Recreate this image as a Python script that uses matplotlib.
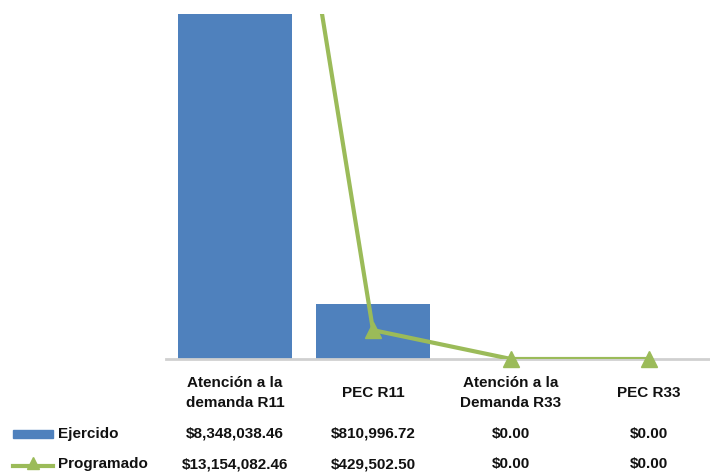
import matplotlib
matplotlib.use("Agg")
import matplotlib.pyplot as plt
import matplotlib.transforms as mtransforms
from matplotlib.lines import Line2D
from matplotlib.patches import Rectangle

categories = ["Atención a la\ndemanda R11", "PEC R11", "Atención a la\nDemanda R33", "PEC R33"]
ejercido = [8348038.46, 810996.72, 0.0, 0.0]
programado = [13154082.46, 429502.50, 0.0, 0.0]
series_names = ["Ejercido", "Programado"]

BLUE = "#4F81BD"
GREEN = "#9BBB59"
TXT = "#111111"
plt.rcParams['font.family'] = ['Liberation Sans', 'DejaVu Sans']

fig = plt.figure(figsize=(7.10, 4.73), dpi=100)
W, H = 710, 473
x0, x1 = 166 / W, 718 / W
ytop, ybot = 1 - 14 / H, 1 - 359 / H
ax = fig.add_axes([x0, ybot, x1 - x0, ytop - ybot])

xs = list(range(len(categories)))
ax.bar(xs, ejercido, width=0.83, color=BLUE, zorder=2)
ax.plot(xs, programado, color=GREEN, lw=3, zorder=3, clip_on=True)
ax.plot(xs[1:], programado[1:], color=GREEN, lw=0, marker="^", markersize=11,
        markeredgecolor=GREEN, zorder=4, clip_on=False)
ax.set_xlim(-0.5, 3.5)
ax.set_ylim(0, 5.13e6)
for s in ["top", "right", "left"]:
    ax.spines[s].set_visible(False)
ax.spines["bottom"].set_color("#D0D0D0")
ax.spines["bottom"].set_linewidth(2)
ax.set_xticks([])
ax.set_yticks([])

tr = mtransforms.blended_transform_factory(ax.transData, fig.transFigure)
fs = 11
fw = "bold"
for i, c in enumerate(categories):
    ax.text(i, 1 - 393 / H, c, transform=tr, ha="center", va="center",
            fontsize=fs, fontweight=fw, color=TXT, linespacing=1.5, clip_on=False)
    ax.text(i, 1 - 434 / H, f"${ejercido[i]:,.2f}", transform=tr, ha="center",
            va="center", fontsize=fs, fontweight=fw, color=TXT, clip_on=False)
    ax.text(i, 1 - 464 / H, f"${programado[i]:,.2f}", transform=tr, ha="center",
            va="center", fontsize=fs, fontweight=fw, color=TXT, clip_on=False)

# legend keys in data table
fig.patches.append(Rectangle((13 / W, 1 - 438 / H), 40 / W, 8 / H,
                             transform=fig.transFigure, color=BLUE))
fig.lines.append(Line2D([13 / W, 53 / W], [1 - 466 / H, 1 - 466 / H],
                        transform=fig.transFigure, color=GREEN, lw=3))
fig.lines.append(Line2D([33 / W], [1 - 463 / H], transform=fig.transFigure,
                        color=GREEN, marker="^", markersize=9, lw=0))
fig.text(58 / W, 1 - 434 / H, series_names[0], ha="left", va="center",
         fontsize=fs, fontweight=fw, color=TXT)
fig.text(58 / W, 1 - 464 / H, series_names[1], ha="left", va="center",
         fontsize=fs, fontweight=fw, color=TXT)

fig.savefig("out.png", dpi=100)
